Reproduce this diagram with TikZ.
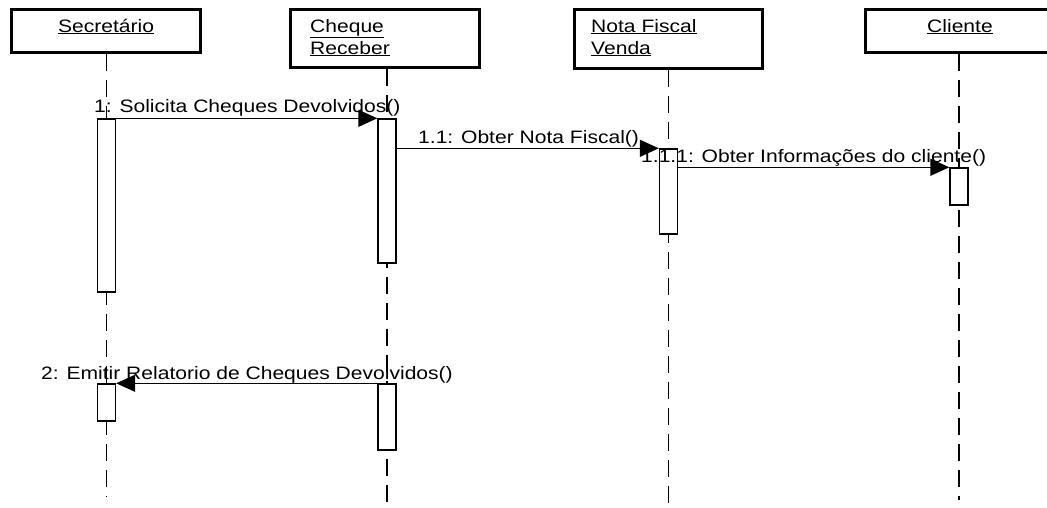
\documentclass[tikz,border=0pt]{standalone}
\usepackage{fontspec}
\setmainfont{Liberation Sans}[FakeStretch=1.17]
\usetikzlibrary{arrows.meta}
\tikzset{
  objbox/.style={draw, line width=3pt, fill=white, inner sep=0pt},
  bar/.style={draw, line width=1.4pt, fill=white, inner sep=0pt, minimum width=18pt},
  life/.style={line width=1.6pt, dash pattern=on 17pt off 9pt},
  msg/.style={line width=1.4pt, -{Triangle[length=19pt,width=17pt]}},
  lbl/.style={inner sep=0pt, anchor=base west, font=\fontsize{18}{21}\selectfont},
  objname/.style={inner sep=0pt, font=\fontsize{18}{21}\selectfont, align=left}
}
\begin{document}
\begin{tikzpicture}[x=1pt, y=-1pt]
\useasboundingbox (0,0) rectangle (1047,507);
\clip (0,0) rectangle (1047,507);

% object boxes
\node[objbox, minimum width=189pt, minimum height=43pt] (sec) at (105.5,30.5) {};
\node[objbox, minimum width=189pt, minimum height=58pt] (chq) at (384.5,38) {};
\node[objbox, minimum width=188pt, minimum height=59pt] (nfv) at (668,38.5) {};
\node[objbox, minimum width=200pt, minimum height=43pt] (cli) at (965,30.5) {};

% lifelines
\coordinate (secEnd) at (106.5,497);
\coordinate (chqEnd) at (387,507);
\coordinate (nfvEnd) at (668.5,507);
\coordinate (cliEnd) at (959,500);
\draw[life] (sec.south -| secEnd) -- (secEnd);
\draw[life] (chq.south -| chqEnd) -- (chqEnd);
\draw[life] (nfv.south -| nfvEnd) -- (nfvEnd);
\draw[life] (cli.south -| cliEnd) -- (cliEnd);

% redraw boxes over the lifeline ends
\node[objbox, minimum width=189pt, minimum height=43pt] at (105.5,30.5) {};
\node[objbox, minimum width=189pt, minimum height=58pt] at (384.5,38) {};
\node[objbox, minimum width=188pt, minimum height=59pt] at (668,38.5) {};
\node[objbox, minimum width=200pt, minimum height=43pt] at (965,30.5) {};

% object names
\node[objname, anchor=base] (secN) at (106,32) {\underline{Secretário}};
\node[objname, anchor=base west] (chqN1) at (310,32) {\underline{Cheque}};
\node[objname, anchor=base west] (chqN2) at (310,54) {\underline{Receber}};
\node[objname, anchor=base west] (nfvN1) at (591,32) {\underline{Nota Fiscal}};
\node[objname, anchor=base west] (nfvN2) at (591,54) {\underline{Venda}};
\node[objname, anchor=base] (cliN) at (960,32) {\underline{Cliente}};

% activation bars
\node[bar, minimum height=173pt] (secA) at (106.5,205.5) {};
\node[bar, minimum height=144pt] (chqA) at (387,191) {};
\node[bar, minimum height=85pt]  (nfvA) at (668.5,191.5) {};
\node[bar, minimum height=37pt]  (cliA) at (959,186.5) {};
\node[bar, minimum height=37pt]  (secB) at (106.5,402.5) {};
\node[bar, minimum height=66pt]  (chqB) at (387,417) {};

% message labels
\node[lbl] (m1) at (94,112) {1: Solicita Cheques Devolvidos()};
\node[lbl] (m2) at (418,143) {1.1: Obter Nota Fiscal()};
\node[lbl] (m3) at (641,162) {1.1.1: Obter Informações do cliente()};
\node[lbl] (m4) at (41,379) {2: Emitir Relatorio de Cheques Devolvidos()};

% messages
\draw[msg] (secA.north east) -- (chqA.north west);
\draw[msg] (chqA.east |- nfvA.north) -- (nfvA.north west);
\draw[msg] (nfvA.east |- cliA.north) -- (cliA.north west);
\draw[msg] (chqB.north west) -- (secB.north east);
\end{tikzpicture}
\end{document}
